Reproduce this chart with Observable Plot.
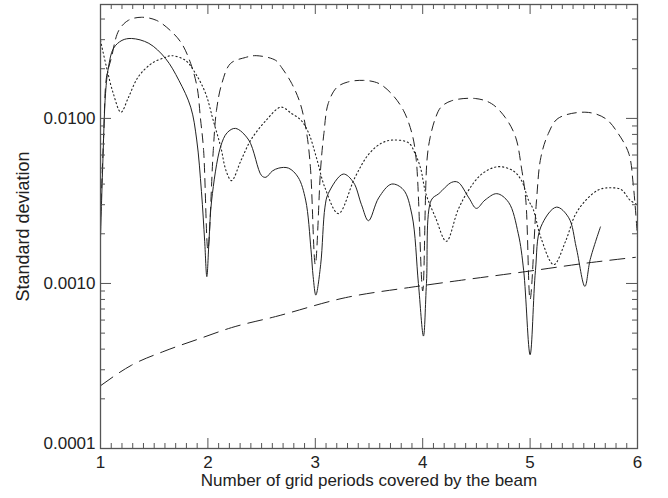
<!DOCTYPE html>
<html><head><meta charset="utf-8">
<script src="https://cdn.jsdelivr.net/npm/d3@7"></script>
<script src="https://cdn.jsdelivr.net/npm/@observablehq/plot@0.6"></script>
<style>html,body{margin:0;padding:0;background:#fff}</style>
</head><body><div id="chart"></div>
<script>
// ---- data ----
const solidX = [1.00,1.02,1.047,1.074,1.121,1.20,1.29,1.45,1.605,1.73,1.84,1.896,1.94,1.97,1.99,2.01,2.035,2.117,2.18,2.257,2.38,2.50,2.54,2.60,2.66,2.75,2.84,2.91,2.96,2.98,3.005,3.05,3.09,3.12,3.26,3.355,3.43,3.495,3.59,3.71,3.82,3.90,3.96,4.007,4.035,4.08,4.15,4.27,4.33,4.43,4.50,4.58,4.69,4.80,4.89,4.94,5.00,5.05,5.10,5.245,5.36,5.43,5.51,5.56,5.655];
const solidY = [0.0019,0.005,0.0142,0.0204,0.0266,0.0297,0.0305,0.0285,0.0231,0.017,0.0117,0.0074,0.0036,0.0018,0.0011,0.0018,0.0032,0.0067,0.0082,0.0087,0.0074,0.0045,0.0044,0.0048,0.0050,0.0050,0.0044,0.0032,0.0016,0.0011,0.00085,0.0013,0.0029,0.0035,0.0046,0.0041,0.0030,0.0024,0.0033,0.0040,0.0037,0.0026,0.0010,0.00048,0.0010,0.0032,0.0035,0.0041,0.0041,0.0033,0.00285,0.0032,0.0035,0.0031,0.0020,0.0012,0.00037,0.0012,0.0022,0.0029,0.0025,0.00165,0.00096,0.0014,0.0022];

const dashX = [1.00,1.03,1.056,1.10,1.17,1.26,1.38,1.52,1.65,1.755,1.84,1.90,1.93,1.96,2.00,2.05,2.08,2.13,2.21,2.35,2.45,2.63,2.685,2.78,2.86,2.92,2.955,3.00,3.05,3.08,3.12,3.20,3.30,3.45,3.59,3.71,3.82,3.90,3.94,4.00,4.04,4.07,4.12,4.17,4.27,4.49,4.64,4.77,4.865,4.92,4.96,5.00,5.06,5.10,5.17,5.26,5.52,5.70,5.82,5.92,5.96,6.00];
const dashY = [0.0025,0.008,0.0178,0.0231,0.0341,0.0393,0.041,0.0393,0.0341,0.0285,0.0215,0.0154,0.0101,0.0064,0.0016,0.0064,0.0112,0.0163,0.0215,0.0234,0.024,0.0225,0.0204,0.0163,0.0123,0.0081,0.005,0.0013,0.005,0.0081,0.0123,0.0154,0.0166,0.017,0.0163,0.0141,0.0112,0.0081,0.0056,0.0009,0.0056,0.0077,0.0101,0.0117,0.0128,0.0132,0.0123,0.0101,0.0077,0.005,0.0032,0.0008,0.0032,0.0058,0.0081,0.010,0.0109,0.010,0.0081,0.0061,0.004,0.0019];

const dotX = [1.00,1.056,1.12,1.19,1.26,1.35,1.475,1.60,1.66,1.79,1.885,1.98,2.05,2.12,2.17,2.22,2.31,2.40,2.54,2.68,2.78,2.87,2.94,3.01,3.09,3.215,3.37,3.50,3.62,3.73,3.87,3.93,3.98,4.03,4.12,4.22,4.33,4.43,4.55,4.70,4.845,4.92,4.985,5.03,5.10,5.22,5.33,5.42,5.52,5.64,5.75,5.85,5.93,6.00];
const dotY = [0.0297,0.0204,0.0141,0.0109,0.0134,0.0178,0.0215,0.0234,0.024,0.0225,0.0187,0.0141,0.0097,0.0067,0.0048,0.0042,0.0056,0.0074,0.0097,0.0117,0.0107,0.0097,0.0081,0.0058,0.0038,0.00265,0.0044,0.0061,0.0071,0.0074,0.0071,0.0061,0.005,0.0035,0.0025,0.0018,0.0028,0.0037,0.0046,0.0051,0.0048,0.0042,0.0032,0.0028,0.0019,0.0013,0.0018,0.0026,0.0032,0.0037,0.0038,0.0037,0.0032,0.0030];

const longX = [1.00,1.29,1.60,1.91,2.22,2.63,3.28,3.90,4.33,4.96,5.57,5.98];
const longY = [0.00024,0.00032,0.00039,0.00046,0.00054,0.00063,0.00082,0.00095,0.00104,0.00118,0.00134,0.00144];

const xTicks = [1,2,3,4,5,6];
const xTickLabels = ["1","2","3","4","5","6"];
const yTicks = [0.0001,0.001,0.01];
const yTickLabels = ["0.0001","0.0010","0.0100"];
const xTitle = "Number of grid periods covered by the beam";
const yTitle = "Standard deviation";

// ---- tables ----
const toRows = (X, Y) => X.map((x, i) => ({x, y: Y[i]}));
const solid = toRows(solidX, solidY);
const dashed = toRows(dashX, dashY);
const dotted = toRows(dotX, dotY);
const longd = toRows(longX, longY);

const xMinor = d3.range(11, 60).map(d => d / 10).filter(d => Math.abs(d - Math.round(d)) > 1e-9);
const yMinor = [];
for (const dec of [0.0001, 0.001, 0.01]) for (let k = 2; k <= 9; k++) { const v = k * dec; if (v < 0.049) yMinor.push(v); }

const W = 668, H = 498, mL = 100, mR = 31, mT = 4, mB = 50;
const iH = H - mT - mB, iW = W - mL - mR;
const axisColor = "#555";
const lineColor = "#222";
const labelOf = d => yTickLabels[yTicks.indexOf(d)];

const chart = Plot.plot({
  width: W, height: H,
  marginLeft: mL, marginRight: mR, marginTop: mT, marginBottom: mB,
  style: {fontFamily: "'Liberation Sans', Arial, Helvetica, sans-serif", fontSize: "17px", background: "#fff", color: "#222", overflow: "visible"},
  x: {domain: [1, 6]},
  y: {type: "log", domain: [0.0001, 0.049]},
  marks: [
    Plot.line(longd, {x: "x", y: "y", stroke: lineColor, strokeWidth: 1, strokeDasharray: "15,8", curve: "monotone-x"}),
    Plot.line(dotted, {x: "x", y: "y", stroke: lineColor, strokeWidth: 1.1, strokeDasharray: "1.2,2.8", curve: "catmull-rom"}),
    Plot.line(dashed, {x: "x", y: "y", stroke: lineColor, strokeWidth: 1, strokeDasharray: "9,6", curve: "catmull-rom"}),
    Plot.line(solid, {x: "x", y: "y", stroke: lineColor, strokeWidth: 1, curve: "catmull-rom"}),
    Plot.frame({stroke: axisColor, strokeWidth: 1.3}),
    // inward ticks, bottom & top
    Plot.tickX(xTicks, {x: d => d, insetTop: iH - 10, stroke: axisColor}),
    Plot.tickX(xTicks, {x: d => d, insetBottom: iH - 10, stroke: axisColor}),
    Plot.tickX(xMinor, {x: d => d, insetTop: iH - 5, stroke: axisColor}),
    Plot.tickX(xMinor, {x: d => d, insetBottom: iH - 5, stroke: axisColor}),
    // inward ticks, left & right
    Plot.tickY(yTicks, {y: d => d, insetRight: iW - 11, stroke: axisColor}),
    Plot.tickY(yTicks, {y: d => d, insetLeft: iW - 11, stroke: axisColor}),
    Plot.tickY(yMinor, {y: d => d, insetRight: iW - 5, stroke: axisColor}),
    Plot.tickY(yMinor, {y: d => d, insetLeft: iW - 5, stroke: axisColor}),
    Plot.axisX(xTicks, {tickSize: 0, tickPadding: 7, tickFormat: d => xTickLabels[xTicks.indexOf(d)], label: null, fill: "#222"}),
    Plot.axisY(yTicks.slice(1), {tickSize: 0, tickPadding: 5, tickFormat: labelOf, label: null, fill: "#222"}),
    Plot.axisY(yTicks.slice(0, 1), {tickSize: 0, tickPadding: 5, tickFormat: labelOf, label: null, dy: -5, fill: "#222"}),
    Plot.text([xTitle], {text: d => d, frameAnchor: "bottom", dy: 37, fill: "#222"}),
    Plot.text([yTitle], {text: d => d, frameAnchor: "left", textAnchor: "middle", dx: -77, rotate: -90, fontSize: 18, fill: "#222"})
  ]
});
document.getElementById("chart").appendChild(chart);
</script>
</body></html>
